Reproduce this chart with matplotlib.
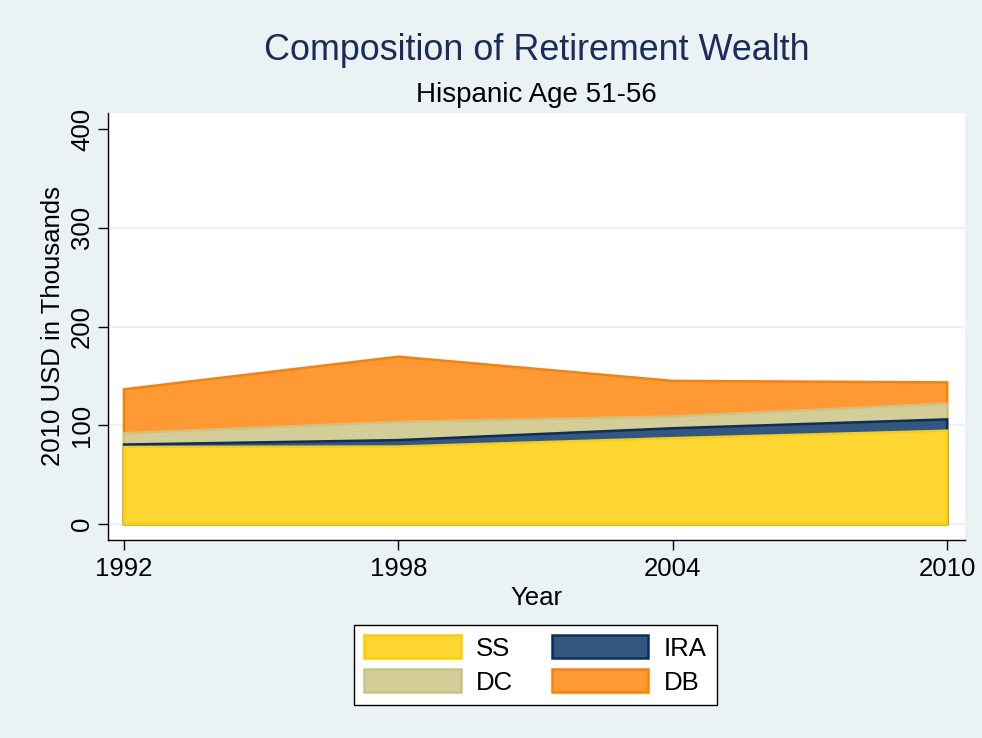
import matplotlib
matplotlib.use("Agg")
import matplotlib.pyplot as plt
from matplotlib.patches import Patch
import numpy as np

years = [1992, 1998, 2004, 2010]
ss = [78.0, 78.5, 87.0, 94.5]
ira = [2.5, 6.5, 10.0, 11.5]
dc = [11.5, 18.5, 12.0, 16.0]
db = [44.5, 66.0, 36.0, 21.5]

series_names = ["SS", "IRA", "DC", "DB"]
fills = ["#FFD732", "#34577F", "#D3CD98", "#FF9933"]
edges = ["#FFCC00", "#0A2D64", "#C9C387", "#FF8000"]

yticks = [0, 100, 200, 300, 400]
xticks = [1992, 1998, 2004, 2010]

plt.rcParams['font.family'] = ['Liberation Sans', 'DejaVu Sans']
bg = "#EAF2F3"
fs = 18.5

W, H = 982, 738
fig = plt.figure(figsize=(W / 100, H / 100), dpi=100, facecolor=bg)
L, R, T, B = 108, 965, 112.5, 540
ax = fig.add_axes([L / W, 1 - B / H, (R - L) / W, (B - T) / H])
ax.set_facecolor("white")

ax.set_xlim(1991.65, 2010.39)
ax.set_ylim(-16.2, 416.9)

for g in [0, 100, 200, 300]:
    ax.axhline(g, color=bg, lw=1.6, zorder=1)

layers = [ss, ira, dc, db]
cum = np.cumsum(np.array(layers, dtype=float), axis=0)
x = np.array(years, dtype=float)
# draw largest cumulative first so smaller ones sit on top (Stata style)
for i in range(len(layers) - 1, -1, -1):
    top = cum[i]
    xs = np.concatenate([[x[0]], x, [x[-1]]])
    ys = np.concatenate([[0], top, [0]])
    ax.fill(xs, ys, facecolor=fills[i], edgecolor=edges[i], lw=1.8,
            joinstyle="miter", zorder=2 + (len(layers) - i))

for s in ["top", "right"]:
    ax.spines[s].set_visible(False)
for s in ["left", "bottom"]:
    ax.spines[s].set_color("black")
    ax.spines[s].set_linewidth(1.0)

ax.set_xticks(xticks)
ax.set_xticklabels([str(t) for t in xticks])
ax.set_yticks(yticks)
ax.set_yticklabels([str(t) for t in yticks], rotation=90, va="center")
ax.tick_params(axis="both", direction="out", length=7, width=1.0,
               labelsize=fs, colors="black", pad=5)
ax.tick_params(axis="y", pad=3)

ax.set_xlabel("Year", fontsize=fs, labelpad=4)
ax.set_ylabel("2010 USD in Thousands", fontsize=fs, labelpad=4)

cx = (L + R) / 2 / W
fig.text(cx, 1 - 51 / H, "Composition of Retirement Wealth", ha="center",
         va="center", fontsize=25.8, color="#1A2D5A")
fig.text(cx, 1 - 95 / H, "Hispanic Age 51-56", ha="center", va="center",
         fontsize=20, color="black")

order = [0, 2, 1, 3]  # SS, DC | IRA, DB  (column-wise fill)
handles = [Patch(facecolor=fills[i], edgecolor=edges[i], lw=1.8) for i in order]
labels = [series_names[i] for i in order]
leg = fig.legend(handles, labels, ncol=2, loc="center",
                 bbox_to_anchor=(535.5 / W, 1 - 665 / H),
                 fontsize=fs, frameon=True, fancybox=False,
                 edgecolor="black", facecolor="white", framealpha=1,
                 handlelength=3.75, handleheight=1.0, handletextpad=0.6,
                 columnspacing=1.5, labelspacing=0.33, borderpad=0.42)
leg.get_frame().set_linewidth(1.0)

fig.savefig("out.png", dpi=100, facecolor=bg)
